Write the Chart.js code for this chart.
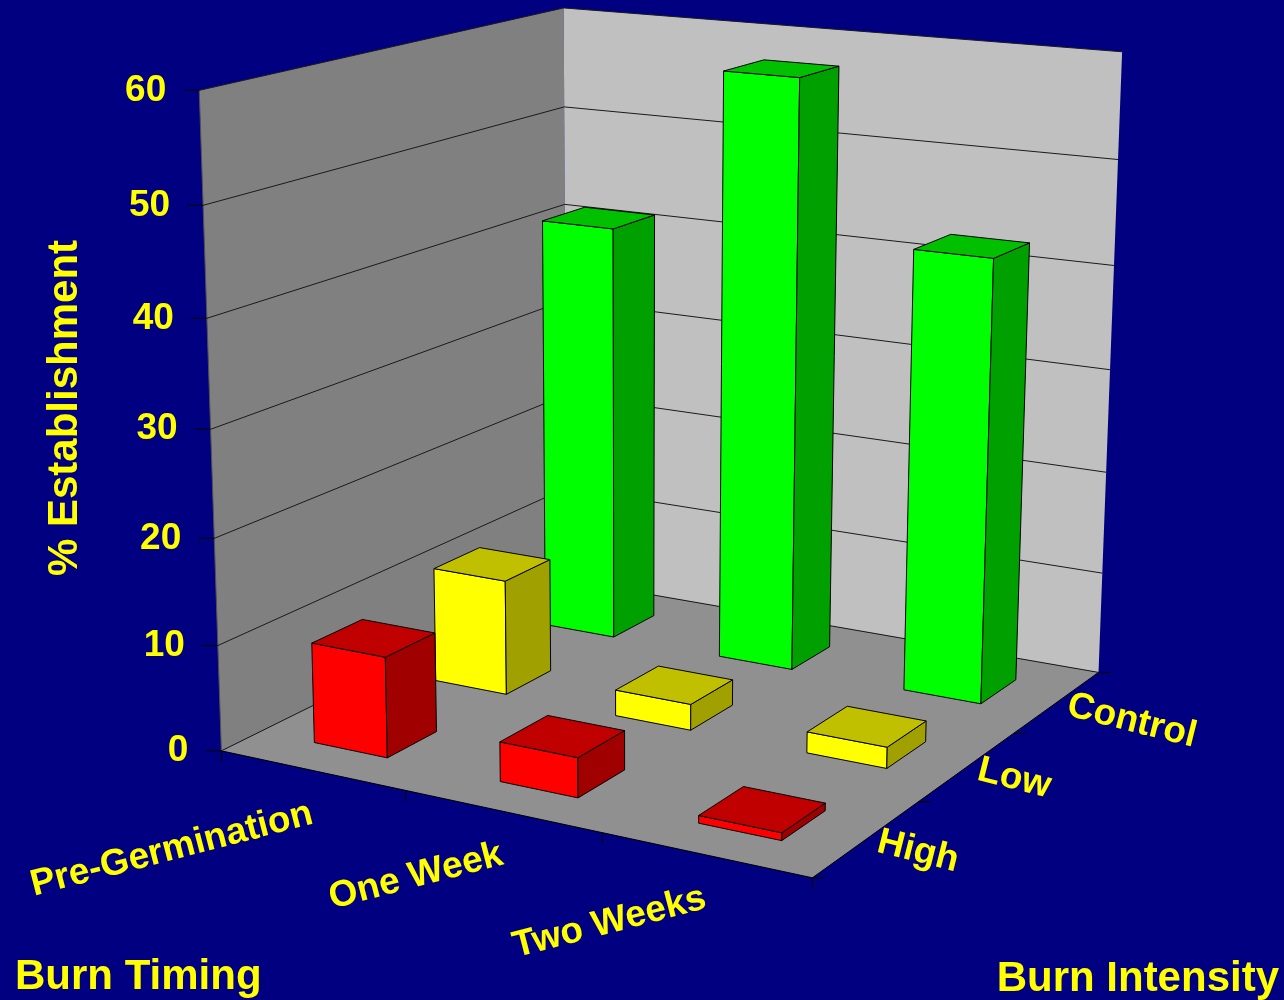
<!DOCTYPE html>
<html>
<head>
<meta charset="utf-8">
<title>% Establishment by Burn Timing and Burn Intensity</title>
<script src="https://cdn.jsdelivr.net/npm/chart.js@4/dist/chart.umd.js"></script>
<style>
    html, body { margin: 0; padding: 0; background: #000080; }
    canvas { display: block; }
</style>
</head>
<body>
<canvas id="establishmentChart" width="1284" height="1000"></canvas>
<script>
const timingLabels = ['Pre-Germination', 'One Week', 'Two Weeks'];
const intensityLabels = ['High', 'Low', 'Control'];
const valueTicks = [0, 10, 20, 30, 40, 50, 60];

const highValues = [9.5, 3.7, 0.7];
const lowValues = [11.2, 2.5, 2];
const controlValues = [41.3, 57.5, 42.6];

const frontColors = ['#ff0000', '#ffff00', '#00ff00'];
const topColors = ['#c00000', '#c0c000', '#00c000'];
const sideColors = ['#a00000', '#a0a000', '#00a000'];

const INK = '#000000';
const YELLOW = '#ffff00';
const BAR_SHARE = 0.4;      // bar width as part of a category cell (gap 150%)

// Known screen positions of the box corners: [u, h, w, px, py]
// u runs along timing, h up the value axis, w back through intensity
const cameraAnchors = [
    [0, 0, 0, 222, 751],
    [0, 1, 0, 199, 90],
    [0, 0, 1, 566, 580],
    [0, 1, 1, 564, 8],
    [1, 0, 1, 1099, 672],
    [1, 1, 1, 1122, 52],
    [1, 0, 0, 812, 878],
];

// Least squares fit of a 3x4 camera matrix (last entry fixed to 1)
function fitCamera(anchors) {
    const rows = [];
    anchors.forEach(([u, h, w, px, py]) => {
        const x = px / 1000, y = py / 1000;
        rows.push([u, h, w, 1, 0, 0, 0, 0, -x * u, -x * h, -x * w, x]);
        rows.push([0, 0, 0, 0, u, h, w, 1, -y * u, -y * h, -y * w, y]);
    });
    const n = 11;
    const m = [];
    for (let i = 0; i < n; i++) {
        m.push([]);
        for (let j = 0; j <= n; j++) {
            m[i].push(rows.reduce((sum, r) => sum + r[i] * r[j], 0));
        }
    }
    for (let i = 0; i < n; i++) {
        let pivot = i;
        for (let k = i + 1; k < n; k++) {
            if (Math.abs(m[k][i]) > Math.abs(m[pivot][i])) pivot = k;
        }
        [m[i], m[pivot]] = [m[pivot], m[i]];
        for (let k = 0; k < n; k++) {
            if (k === i) continue;
            const f = m[k][i] / m[i][i];
            for (let j = i; j <= n; j++) m[k][j] -= f * m[i][j];
        }
    }
    return m.map((r, i) => r[n] / r[i]);
}

const cam = fitCamera(cameraAnchors);

function project(u, h, w) {
    const d = cam[8] * u + cam[9] * h + cam[10] * w + 1;
    return {
        x: 1000 * (cam[0] * u + cam[1] * h + cam[2] * w + cam[3]) / d,
        y: 1000 * (cam[4] * u + cam[5] * h + cam[6] * w + cam[7]) / d,
    };
}

function decimalOf(scale, value) {
    return scale.getDecimalForPixel(scale.getPixelForValue(value));
}

function fillFace(ctx, points, fill) {
    ctx.beginPath();
    points.forEach((p, i) => i ? ctx.lineTo(p.x, p.y) : ctx.moveTo(p.x, p.y));
    ctx.closePath();
    ctx.fillStyle = fill;
    ctx.fill();
}

function face(ctx, points, fill) {
    fillFace(ctx, points, fill);
    ctx.strokeStyle = INK;
    ctx.lineWidth = 1;
    ctx.stroke();
}

function segment(ctx, a, b) {
    ctx.beginPath();
    ctx.moveTo(a.x, a.y);
    ctx.lineTo(b.x, b.y);
    ctx.stroke();
}

function text(ctx, str, x, y, angle, align, size) {
    ctx.save();
    ctx.translate(x, y);
    ctx.rotate(angle * Math.PI / 180);
    ctx.font = `bold ${size}px "Liberation Sans", Arial, sans-serif`;
    ctx.fillStyle = YELLOW;
    ctx.textAlign = align;
    ctx.textBaseline = 'middle';
    ctx.fillText(str, 0, 0);
    ctx.restore();
}

// Each dataset is one intensity row; its bars are drawn as projected boxes.
// Chart.js paints the last dataset first, so the Control row ends up behind.
class Box3dController extends Chart.BarController {
    draw() {
        const ctx = this.chart.ctx;
        const meta = this.getMeta();
        const depth = this.chart.scales.depth;
        const dataset = this.getDataset();
        const halfU = BAR_SHARE / timingLabels.length / 2;
        const halfW = BAR_SHARE / intensityLabels.length / 2;
        const w = decimalOf(depth, this.index);

        meta.data.forEach((bar, i) => {
            const u = decimalOf(meta.xScale, i);
            const h = decimalOf(meta.yScale, this.getParsed(i).y);
            const u0 = u - halfU, u1 = u + halfU;
            const w0 = w - halfW, w1 = w + halfW;

            face(ctx, [project(u0, 0, w0), project(u1, 0, w0), project(u1, h, w0), project(u0, h, w0)], dataset.frontColor);
            face(ctx, [project(u1, 0, w0), project(u1, 0, w1), project(u1, h, w1), project(u1, h, w0)], dataset.sideColor);
            face(ctx, [project(u0, h, w0), project(u1, h, w0), project(u1, h, w1), project(u0, h, w1)], dataset.topColor);
        });
    }
}
Box3dController.id = 'box3d';
Box3dController.defaults = Chart.BarController.defaults;
Box3dController.overrides = Chart.BarController.overrides;
Chart.register(Box3dController);

// Walls, floor, grid lines, ticks and all the text
const boxFrame = {
    id: 'boxFrame',
    beforeDatasetsDraw(chart) {
        const ctx = chart.ctx;
        const { x: xScale, y: yScale, depth } = chart.scales;

        ctx.save();
        fillFace(ctx, [project(0, 0, 0), project(0, 1, 0), project(0, 1, 1), project(0, 0, 1)], '#808080');
        fillFace(ctx, [project(0, 0, 1), project(0, 1, 1), project(1, 1, 1), project(1, 0, 1)], '#c0c0c0');
        fillFace(ctx, [project(0, 0, 0), project(1, 0, 0), project(1, 0, 1), project(0, 0, 1)], '#909090');

        ctx.lineWidth = 1;
        ctx.strokeStyle = '#505050';
        segment(ctx, project(0, 0, 0), project(0, 1, 0));
        ctx.strokeStyle = INK;
        segment(ctx, project(0, 0, 0), project(1, 0, 0));
        segment(ctx, project(1, 0, 0), project(1, 0, 1));

        valueTicks.forEach(v => {
            const h = decimalOf(yScale, v);
            const front = project(0, h, 0);
            ctx.strokeStyle = '#1a1a1a';
            segment(ctx, front, project(0, h, 1));
            segment(ctx, project(0, h, 1), project(1, h, 1));
            ctx.strokeStyle = INK;
            segment(ctx, front, { x: front.x - 16, y: front.y });
            text(ctx, String(v), front.x - 33, front.y, 0, 'right', 37);
        });

        // category boundaries along the front and right floor edges
        for (let i = 0; i <= timingLabels.length; i++) {
            const p = project(i / timingLabels.length, 0, 0);
            segment(ctx, p, { x: p.x, y: p.y + 11 });
        }
        for (let i = 0; i <= intensityLabels.length; i++) {
            const p = project(1, 0, i / intensityLabels.length);
            segment(ctx, p, { x: p.x + 12, y: p.y });
        }

        timingLabels.forEach((label, i) => {
            const p = project(decimalOf(xScale, i), 0, 0);
            text(ctx, label, p.x, p.y + 43, -14.5, 'right', 37);
        });
        intensityLabels.forEach((label, i) => {
            const p = project(1, 0, decimalOf(depth, i));
            text(ctx, label, p.x + 11, p.y + 3, 14, 'left', 37);
        });

        text(ctx, '% Establishment', 65, 408, -90, 'center', 42);
        text(ctx, 'Burn Timing', 15, 977, 0, 'left', 42);
        text(ctx, 'Burn Intensity', 1279, 979, 0, 'right', 42);
        ctx.restore();
    },
};

const seriesValues = [highValues, lowValues, controlValues];

new Chart(document.getElementById('establishmentChart'), {
    type: 'box3d',
    data: {
        labels: timingLabels,
        datasets: intensityLabels.map((label, i) => ({
            label: label,
            data: seriesValues[i],
            frontColor: frontColors[i],
            topColor: topColors[i],
            sideColor: sideColors[i],
        })),
    },
    options: {
        responsive: false,
        animation: false,
        layout: { padding: 0 },
        plugins: {
            legend: { display: false },
            tooltip: { enabled: false },
        },
        scales: {
            x: { type: 'category', offset: true, display: false },
            y: { type: 'linear', min: 0, max: 60, ticks: { stepSize: 10 }, display: false },
            depth: { type: 'category', axis: 'x', labels: intensityLabels, offset: true, display: false },
        },
    },
    plugins: [boxFrame],
});
</script>
</body>
</html>
